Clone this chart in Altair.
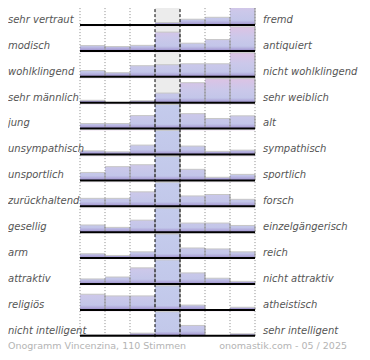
import altair as alt
import pandas as pd

left_labels = ["sehr vertraut", "modisch", "wohlklingend", "sehr männlich", "\u00a0jung",
               "unsympathisch", "unsportlich", "zurückhaltend", "gesellig", "arm",
               "attraktiv", "religiös", "nicht intelligent"]
right_labels = ["fremd", "antiquiert", "nicht wohlklingend", "sehr weiblich", "alt",
                "sympathisch", "sportlich", "forsch", "einzelgängerisch", "reich",
                "nicht attraktiv", "atheistisch", "sehr intelligent"]

# relative bar heights per row (% of the row's full height; >100 = bar clipped at full height)
values = [
    [0, 0, 0, 10, 24, 32, 100],
    [22, 18, 23, 78, 32, 47, 100],
    [26, 17, 46, 50, 54, 54, 100],
    [10, 0, 8, 40, 83, 100, 100],
    [21, 21, 54, 120, 62, 42, 53],
    [15, 11, 39, 120, 35, 13, 18],
    [33, 57, 65, 120, 46, 13, 25],
    [33, 33, 60, 120, 43, 49, 29],
    [30, 20, 50, 120, 38, 38, 28],
    [18, 11, 26, 120, 42, 38, 26],
    [21, 29, 67, 120, 46, 24, 11],
    [65, 58, 58, 120, 20, 0, 11],
    [4, 4, 11, 120, 43, 0, 8],
]
footer_left = "Onogramm Vincenzina, 110 Stimmen"
footer_right = "onomastik.com - 05 / 2025"

n_rows = len(values)
n_cols = len(values[0])
cells = pd.DataFrame([{"row": r, "col": c, "v": v}
                      for r, rv in enumerate(values) for c, v in enumerate(rv)])
rows = pd.DataFrame({"row": list(range(n_rows)), "left": left_labels, "right": right_labels})
bounds = pd.DataFrame({"b": list(range(n_cols + 1))})

W, H = 175, 343
PITCH = 25.9
Y0 = 1 - 17 / PITCH
FULL = 0.93
xs = alt.Scale(domain=[0, n_cols], nice=False, zero=False)
ys = alt.Scale(domain=[Y0, Y0 + H / PITCH], reverse=True, nice=False, zero=False)


def grad(stops):
    return {"gradient": "linear", "x1": 0, "x2": 0, "y1": 0, "y2": 1,
            "stops": [{"offset": o, "color": c} for o, c in stops]}


grad_pink = grad([(0, "#dcc3e4"), (0.45, "#cbc8ea"), (0.8, "#c3c6e9"), (0.9, "#b2acdc"), (1, "#9a8ccb")])
grad_blue = grad([(0, "#c4cbec"), (0.82, "#c2c8ea"), (0.9, "#b2acdc"), (1, "#9a8ccb")])

base = alt.Chart(cells).transform_calculate(
    base="datum.row + 1",
    rtop=f"datum.row + 1 - {FULL}",
    btop=f"datum.row + 1 - {FULL} * min(datum.v, 100) / 100",
    x0="datum.col",
    x1="datum.col + 1",
)
X = alt.X("x0:Q", scale=xs, axis=None)
Y = alt.Y("base:Q", scale=ys, axis=None)

midbg = alt.Chart(bounds).transform_filter("datum.b == 3").transform_calculate(
    c2="datum.b + 1", yt="0", yb=f"{n_rows}").mark_rect(color="#ececec").encode(
    x=alt.X("b:Q", scale=xs, axis=None), x2="c2:Q",
    y=alt.Y("yt:Q", scale=ys, axis=None), y2="yb:Q")

cells_pink = base.transform_filter("datum.v <= 100").mark_rect(fill=grad_pink).encode(
    x=X, x2="x1:Q", y=Y, y2="rtop:Q")
cells_blue = base.transform_filter("datum.v > 100").mark_rect(fill=grad_blue).encode(
    x=X, x2="x1:Q", y=Y, y2="rtop:Q")
cover = base.mark_rect().encode(
    x=X, x2="x1:Q", y=alt.Y("btop:Q", scale=ys, axis=None), y2="rtop:Q",
    color=alt.condition("datum.col == 3", alt.value("#ececec"), alt.value("white")))
topedge = base.transform_filter("datum.v > 0").mark_rule(color="#c6c6c6").encode(
    x=X, x2="x1:Q", y=alt.Y("btop:Q", scale=ys, axis=None))
rightedge = base.transform_filter("datum.v > 0").mark_rule(color="#9a9a9a").encode(
    x=alt.X("x1:Q", scale=xs, axis=None), y=Y, y2="btop:Q")

vbase = alt.Chart(bounds).transform_calculate(yt="0", yb=f"{n_rows} + 0.05")
dotted = vbase.transform_filter("datum.b != 3 && datum.b != 4").mark_rule(
    color="#8a8a8a", strokeDash=[1, 2]).encode(
    x=alt.X("b:Q", scale=xs, axis=None), y=alt.Y("yt:Q", scale=ys, axis=None), y2="yb:Q")
dashed = vbase.transform_filter("datum.b == 3 || datum.b == 4").mark_rule(
    color="black", strokeDash=[3, 2]).encode(
    x=alt.X("b:Q", scale=xs, axis=None), y=alt.Y("yt:Q", scale=ys, axis=None), y2="yb:Q")

baselines = alt.Chart(rows).transform_calculate(
    base="datum.row + 1", xa="0", xb=f"{n_cols}").mark_rule(
    color="black", strokeWidth=2).encode(
    x=alt.X("xa:Q", scale=xs, axis=None), x2="xb:Q", y=alt.Y("base:Q", scale=ys, axis=None))

lab = dict(baseline="middle", font="DejaVu Sans", fontStyle="italic", fontSize=10, color="#555555")
left_txt = alt.Chart(rows).transform_calculate(ly="datum.row + 0.8").mark_text(
    align="left", **lab).encode(x=alt.value(-72), y=alt.Y("ly:Q", scale=ys, axis=None), text="left:N")
right_txt = alt.Chart(rows).transform_calculate(ly="datum.row + 0.8").mark_text(
    align="left", **lab).encode(x=alt.value(183), y=alt.Y("ly:Q", scale=ys, axis=None), text="right:N")

foot = dict(baseline="middle", font="DejaVu Sans", fontSize=9.5, color="#b4b4b4")
fl = alt.Chart(pd.DataFrame({"t": [footer_left]})).mark_text(align="left", **foot).encode(
    x=alt.value(-72), y=alt.value(338), text="t:N")
fr = alt.Chart(pd.DataFrame({"t": [footer_right]})).mark_text(align="right", **foot).encode(
    x=alt.value(267), y=alt.value(338), text="t:N")

chart = alt.layer(
    midbg, cells_pink, cells_blue, cover, topedge, rightedge,
    dotted, dashed, baselines, left_txt, right_txt, fl, fr
).properties(
    width=W, height=H,
    padding={"left": 72, "top": 0, "right": 107, "bottom": 0},
    autosize="none",
).configure_view(stroke=None)

chart.save("out.html", embed_options={"renderer": "svg", "actions": False})
